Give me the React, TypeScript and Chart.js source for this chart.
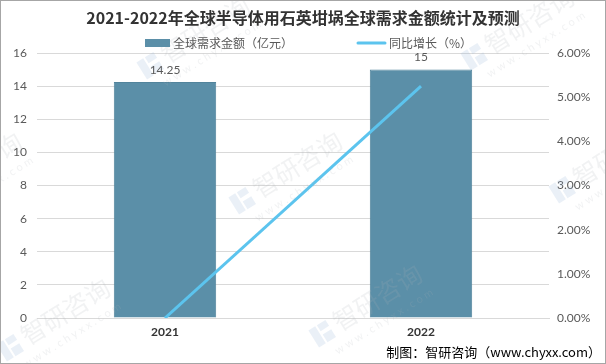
import React, { useEffect, useRef } from "react";
import { Chart, registerables } from "chart.js";

Chart.register(...registerables);

const categories = ["2021", "2022"];
const demandValues = [14.25, 15];
const growthValues = [0, 5.25];
const titleText = "2021-2022年全球半导体用石英坩埚全球需求金额统计及预测";
const barLabel = "全球需求金额（亿元）";
const lineLabel = "同比增长（%）";
const sourceText = "制图：智研咨询（www.chyxx.com）";
const watermarkText = "智研咨询";
const watermarkUrl = "w w w . c h y x x . c o m";
// anchor points of the faint background watermarks
const watermarkX = [168, 492, -60, 260, 580, 28, 340];
const watermarkY = [64, 55, 200, 199, 188, 346, 332];

const FONT = "Lato, 'Noto Sans CJK SC', sans-serif";
const CJK = "'Noto Sans CJK SC', sans-serif";
const BAR_COLOR = "#5b8fa8";
const LINE_COLOR = "#5cc4ee";
const TEXT_GRAY = "#595959";

function drawWatermark(ctx: CanvasRenderingContext2D, x: number, y: number) {
  ctx.save();
  ctx.translate(x, y);
  ctx.rotate(-0.56);
  // logo
  ctx.fillStyle = "rgba(150,180,215,0.2)";
  ctx.fillRect(-26, -18, 8, 20);
  ctx.fillRect(-16, -18, 10, 7);
  ctx.fillRect(-16, -7, 10, 9);
  // text
  ctx.fillStyle = "rgba(170,175,185,0.17)";
  ctx.font = "25px " + CJK;
  ctx.textAlign = "left";
  ctx.textBaseline = "alphabetic";
  ctx.fillText(watermarkText, 0, 0);
  ctx.font = "11px " + FONT;
  ctx.fillText(watermarkUrl, -14, 18);
  ctx.restore();
}

const decorPlugin = {
  id: "decor",
  beforeDraw(chart: any) {
    const ctx = chart.ctx;
    ctx.save();
    ctx.fillStyle = "#ffffff";
    ctx.fillRect(0, 0, chart.width, chart.height);
    ctx.restore();
  },
  afterDraw(chart: any) {
    const ctx = chart.ctx;
    ctx.save();
    // watermarks
    watermarkX.forEach((wx, i) => drawWatermark(ctx, wx, watermarkY[i]));

    // title
    ctx.fillStyle = "#333333";
    ctx.font = "bold 16px " + CJK;
    ctx.textAlign = "center";
    ctx.textBaseline = "middle";
    ctx.fillText(titleText, 303, 18);

    // legend
    ctx.fillStyle = BAR_COLOR;
    ctx.fillRect(145, 39, 25, 8);
    ctx.font = "12px " + CJK;
    ctx.fillStyle = TEXT_GRAY;
    ctx.textAlign = "left";
    ctx.fillText(barLabel, 173, 43);
    ctx.strokeStyle = LINE_COLOR;
    ctx.lineWidth = 3;
    ctx.lineCap = "round";
    ctx.beginPath();
    ctx.moveTo(358, 43);
    ctx.lineTo(385, 43);
    ctx.stroke();
    ctx.fillText(lineLabel, 389, 43);

    // data labels
    const meta = chart.getDatasetMeta(1);
    ctx.font = "12px " + FONT;
    ctx.fillStyle = TEXT_GRAY;
    ctx.textAlign = "center";
    ctx.textBaseline = "bottom";
    meta.data.forEach((el: any, i: number) => {
      ctx.fillText(String(demandValues[i]), el.x, el.y - 6);
    });

    // source
    ctx.font = "13px " + CJK;
    ctx.fillStyle = "#000000";
    ctx.textAlign = "right";
    ctx.textBaseline = "middle";
    ctx.fillText(sourceText, 601, 352);

    // border
    ctx.strokeStyle = "#a6a6a6";
    ctx.lineWidth = 1;
    ctx.strokeRect(0.5, 0.5, chart.width - 1, chart.height - 1);
    ctx.restore();
  },
};

export default function App() {
  const ref = useRef<HTMLCanvasElement | null>(null);
  useEffect(() => {
    if (!ref.current) return;
    const chart = new Chart(ref.current, {
      type: "bar",
      data: {
        labels: categories,
        datasets: [
          {
            type: "line",
            label: lineLabel,
            data: growthValues,
            yAxisID: "y1",
            borderColor: LINE_COLOR,
            backgroundColor: LINE_COLOR,
            borderWidth: 3,
            pointRadius: 0,
            tension: 0,
            order: 0,
          } as any,
          {
            type: "bar",
            label: barLabel,
            data: demandValues,
            yAxisID: "y",
            backgroundColor: BAR_COLOR,
            borderColor: "#52849c",
            borderWidth: 1,
            categoryPercentage: 1,
            barPercentage: 0.4,
            order: 1,
          } as any,
        ],
      },
      plugins: [decorPlugin],
      options: {
        animation: false,
        responsive: false,
        layout: { padding: { top: 53, left: 0, right: 0, bottom: 0 } },
        plugins: {
          legend: { display: false },
          title: { display: false },
          tooltip: { enabled: false },
        },
        scales: {
          x: {
            offset: true,
            grid: { display: false, drawTicks: false },
            border: { display: true, color: "#d9d9d9" },
            ticks: {
              color: "#333333",
              font: { family: FONT, size: 12, weight: "bold" },
              padding: 7,
            },
            afterFit(scale: any) {
              scale.height = 46;
            },
          },
          y: {
            position: "left",
            min: 0,
            max: 16,
            border: { display: false },
            grid: { color: "#d9d9d9", drawTicks: false },
            ticks: {
              stepSize: 2,
              color: TEXT_GRAY,
              font: { family: FONT, size: 12 },
              padding: 10,
            },
            afterFit(scale: any) {
              scale.width = 37;
            },
          },
          y1: {
            position: "right",
            min: 0,
            max: 6,
            border: { display: false },
            grid: { display: false, drawTicks: false },
            ticks: {
              stepSize: 1,
              color: TEXT_GRAY,
              font: { family: FONT, size: 12 },
              padding: 8,
              callback: (v: any) => Number(v).toFixed(2) + "%",
            },
            afterFit(scale: any) {
              scale.width = 57;
            },
          },
        },
      } as any,
    });
    return () => chart.destroy();
  }, []);
  return (
    <div style={{ position: "absolute", left: 0, top: 0, width: 606, height: 364 }}>
      <canvas ref={ref} width={606} height={364} />
    </div>
  );
}
